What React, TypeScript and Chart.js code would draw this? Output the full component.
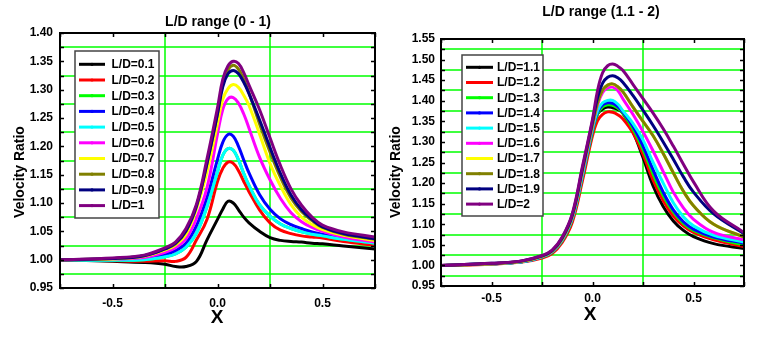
import { useEffect, useRef } from "react";
import { Chart, registerables } from "chart.js";

Chart.register(...registerables);

// ---------- data ----------
const X_VALUES = [-0.75, -0.5, -0.35, -0.25, -0.2, -0.15, -0.1, -0.05, 0, 0.025, 0.05, 0.075, 0.1, 0.125, 0.15, 0.2, 0.25, 0.3, 0.35, 0.4, 0.45, 0.5, 0.6, 0.75];

const LEFT_TITLE = "L/D range (0 - 1)";
const RIGHT_TITLE = "L/D range (1.1 - 2)";
const Y_TITLE = "Velocity Ratio";
const X_TITLE = "X";

const LEFT_LABELS = ["L/D=0.1", "L/D=0.2", "L/D=0.3", "L/D=0.4", "L/D=0.5", "L/D=0.6", "L/D=0.7", "L/D=0.8", "L/D=0.9", "L/D=1"];
const RIGHT_LABELS = ["L/D=1.1", "L/D=1.2", "L/D=1.3", "L/D=1.4", "L/D=1.5", "L/D=1.6", "L/D=1.7", "L/D=1.8", "L/D=1.9", "L/D=2"];
const SERIES_COLORS = ["#000000", "#ff0000", "#00ff00", "#0000ff", "#00ffff", "#ff00ff", "#ffff00", "#808000", "#000080", "#800080"];

const X_TICK_LABELS = ["-0.5", "0.0", "0.5"];
const X_GRID = [-0.25, 0.25];

// left panel, L/D 0.1 .. 1
const LD_01 = [1.000, 0.997, 0.995, 0.992, 0.988, 0.988, 0.997, 1.035, 1.071, 1.089, 1.103, 1.100, 1.088, 1.075, 1.065, 1.050, 1.039, 1.034, 1.032, 1.031, 1.029, 1.028, 1.024, 1.019];
const LD_02 = [1.000, 0.998, 0.997, 0.998, 0.997, 1.004, 1.035, 1.071, 1.138, 1.161, 1.172, 1.170, 1.157, 1.138, 1.120, 1.088, 1.065, 1.052, 1.046, 1.042, 1.040, 1.038, 1.032, 1.025];
const LD_03 = [1.000, 0.999, 1.000, 1.005, 1.010, 1.022, 1.047, 1.094, 1.155, 1.184, 1.196, 1.193, 1.176, 1.152, 1.131, 1.097, 1.077, 1.063, 1.055, 1.049, 1.045, 1.042, 1.036, 1.029];
const LD_04 = [1.000, 1.000, 1.002, 1.009, 1.016, 1.029, 1.060, 1.110, 1.177, 1.207, 1.221, 1.218, 1.200, 1.176, 1.153, 1.115, 1.089, 1.072, 1.062, 1.055, 1.049, 1.045, 1.037, 1.030];
const LD_05 = [1.000, 0.999, 1.000, 1.005, 1.010, 1.022, 1.047, 1.094, 1.155, 1.184, 1.196, 1.193, 1.176, 1.152, 1.131, 1.097, 1.077, 1.063, 1.055, 1.049, 1.045, 1.042, 1.036, 1.029];
const LD_06 = [1.000, 1.001, 1.004, 1.013, 1.021, 1.037, 1.073, 1.127, 1.222, 1.265, 1.284, 1.286, 1.276, 1.257, 1.232, 1.181, 1.141, 1.108, 1.083, 1.067, 1.057, 1.050, 1.040, 1.031];
const LD_07 = [1.000, 1.001, 1.006, 1.017, 1.026, 1.045, 1.090, 1.155, 1.240, 1.283, 1.302, 1.309, 1.304, 1.290, 1.272, 1.222, 1.170, 1.130, 1.097, 1.075, 1.062, 1.053, 1.043, 1.034];
const LD_08 = [1.000, 1.002, 1.007, 1.019, 1.028, 1.050, 1.094, 1.170, 1.258, 1.310, 1.335, 1.343, 1.336, 1.318, 1.294, 1.240, 1.190, 1.145, 1.109, 1.085, 1.069, 1.057, 1.045, 1.036];
const LD_09 = [1.000, 1.002, 1.007, 1.019, 1.029, 1.051, 1.095, 1.170, 1.257, 1.305, 1.328, 1.334, 1.328, 1.313, 1.293, 1.247, 1.198, 1.152, 1.114, 1.088, 1.071, 1.058, 1.046, 1.037];
const LD_10 = [1.000, 1.003, 1.008, 1.021, 1.031, 1.055, 1.098, 1.178, 1.268, 1.318, 1.342, 1.350, 1.346, 1.330, 1.308, 1.265, 1.215, 1.166, 1.125, 1.096, 1.075, 1.061, 1.049, 1.040];

// right panel, L/D 1.1 .. 2
const LD_11 = [1.000, 1.004, 1.009, 1.021, 1.033, 1.062, 1.115, 1.220, 1.330, 1.368, 1.380, 1.385, 1.383, 1.379, 1.370, 1.325, 1.262, 1.193, 1.143, 1.108, 1.085, 1.070, 1.053, 1.041];
const LD_12 = [1.000, 1.003, 1.008, 1.018, 1.029, 1.056, 1.105, 1.205, 1.315, 1.352, 1.367, 1.373, 1.372, 1.366, 1.356, 1.322, 1.270, 1.207, 1.157, 1.120, 1.096, 1.080, 1.062, 1.046];
const LD_13 = [1.000, 1.004, 1.009, 1.020, 1.032, 1.060, 1.112, 1.215, 1.325, 1.368, 1.385, 1.390, 1.389, 1.382, 1.370, 1.332, 1.282, 1.222, 1.170, 1.130, 1.102, 1.085, 1.067, 1.050];
const LD_14 = [1.000, 1.004, 1.009, 1.021, 1.033, 1.062, 1.115, 1.220, 1.330, 1.372, 1.390, 1.395, 1.394, 1.386, 1.373, 1.338, 1.290, 1.232, 1.178, 1.135, 1.106, 1.088, 1.069, 1.054];
const LD_15 = [1.000, 1.004, 1.009, 1.021, 1.033, 1.062, 1.115, 1.220, 1.332, 1.376, 1.395, 1.401, 1.401, 1.392, 1.376, 1.345, 1.305, 1.250, 1.200, 1.152, 1.118, 1.096, 1.073, 1.057];
const LD_16 = [1.000, 1.004, 1.010, 1.022, 1.034, 1.064, 1.118, 1.225, 1.338, 1.390, 1.420, 1.431, 1.433, 1.425, 1.405, 1.367, 1.325, 1.278, 1.228, 1.178, 1.140, 1.112, 1.080, 1.062];
const LD_17 = [1.000, 1.004, 1.010, 1.022, 1.035, 1.065, 1.120, 1.230, 1.342, 1.395, 1.426, 1.438, 1.440, 1.434, 1.422, 1.385, 1.350, 1.315, 1.272, 1.225, 1.180, 1.145, 1.100, 1.069];
const LD_18 = [1.000, 1.004, 1.010, 1.022, 1.035, 1.065, 1.120, 1.230, 1.342, 1.395, 1.426, 1.438, 1.441, 1.434, 1.422, 1.385, 1.350, 1.315, 1.272, 1.225, 1.180, 1.145, 1.100, 1.069];
const LD_19 = [1.000, 1.005, 1.011, 1.023, 1.036, 1.067, 1.123, 1.235, 1.350, 1.408, 1.443, 1.457, 1.461, 1.456, 1.445, 1.413, 1.377, 1.340, 1.300, 1.258, 1.215, 1.178, 1.125, 1.077];
const LD_20 = [1.000, 1.005, 1.011, 1.024, 1.037, 1.069, 1.126, 1.240, 1.355, 1.425, 1.468, 1.485, 1.489, 1.484, 1.474, 1.440, 1.405, 1.370, 1.332, 1.290, 1.246, 1.203, 1.132, 1.080];

const LEFT_SERIES = [LD_01, LD_02, LD_03, LD_04, LD_05, LD_06, LD_07, LD_08, LD_09, LD_10];
const RIGHT_SERIES = [LD_11, LD_12, LD_13, LD_14, LD_15, LD_16, LD_17, LD_18, LD_19, LD_20];

// ---------- styling ----------
const FONT = 'Arial, "Liberation Sans", Helvetica, sans-serif';
const GRID_GREEN = "#00ff00";

type Panel = {
  title: string;
  titleX: number;
  titleY: number;
  labels: string[];
  series: number[][];
  yMin: number;
  yMax: number;
  pad: { top: number; right: number };
  yWidth: number;
  xHeight: number;
  xTickPad: number;
  yTickPad: number;
  yTitleX: number;
  xTitleX: number;
  xTitleY: number;
  legend: { x: number; y: number; w: number; h: number; row0: number; rowH: number; l0: number; l1: number; tx: number };
};

const LEFT_PANEL: Panel = {
  title: LEFT_TITLE,
  titleX: 218,
  titleY: 22,
  labels: LEFT_LABELS,
  series: LEFT_SERIES,
  yMin: 0.95,
  yMax: 1.4,
  pad: { top: 33, right: 8 },
  yWidth: 60,
  xHeight: 49,
  xTickPad: 8,
  yTickPad: 7,
  yTitleX: 20,
  xTitleX: 217,
  xTitleY: 318,
  legend: { x: 75, y: 51, w: 84, h: 167, row0: 64.3, rowH: 15.7, l0: 79, l1: 105, tx: 111.5 },
};

const RIGHT_PANEL: Panel = {
  title: RIGHT_TITLE,
  titleX: 218,
  titleY: 12,
  labels: RIGHT_LABELS,
  series: RIGHT_SERIES,
  yMin: 0.95,
  yMax: 1.55,
  pad: { top: 39, right: 22 },
  yWidth: 58,
  xHeight: 51,
  xTickPad: 5,
  yTickPad: 6,
  yTitleX: 13,
  xTitleX: 207,
  xTitleY: 315,
  legend: { x: 79, y: 55, w: 81, h: 161, row0: 67.3, rowH: 15.2, l0: 83, l1: 110, tx: 114 },
};

function decorPlugin(p: Panel) {
  return {
    id: "decor",
    beforeDatasetsDraw(chart: any) {
      const { ctx, chartArea } = chart;
      const { left, right, top, bottom } = chartArea;
      const xs = chart.scales.x;
      const ys = chart.scales.y;
      ctx.save();
      ctx.strokeStyle = GRID_GREEN;
      ctx.lineWidth = 1.5;
      ctx.beginPath();
      ys.ticks.forEach((t: any) => {
        const k = Math.round(t.value * 1000);
        if (k % 50 !== 25) return;
        const py = Math.round(ys.getPixelForValue(t.value));
        ctx.moveTo(left, py);
        ctx.lineTo(right, py);
      });
      X_GRID.forEach((v) => {
        const px = Math.round(xs.getPixelForValue(v));
        ctx.moveTo(px, top);
        ctx.lineTo(px, bottom);
      });
      ctx.stroke();
      ctx.restore();
    },
    afterDatasetsDraw(chart: any) {
      const { ctx, chartArea } = chart;
      const { left, right, top, bottom } = chartArea;
      const xs = chart.scales.x;
      const ys = chart.scales.y;
      ctx.save();
      ctx.strokeStyle = "#000";
      ctx.lineWidth = 1.5;
      ctx.beginPath();
      ys.ticks.forEach((t: any) => {
        const py = Math.round(ys.getPixelForValue(t.value)) + 0.5;
        ctx.moveTo(left, py);
        ctx.lineTo(left + 4, py);
        ctx.moveTo(right, py);
        ctx.lineTo(right - 4, py);
      });
      xs.ticks.forEach((t: any) => {
        const px = Math.round(xs.getPixelForValue(t.value)) + 0.5;
        ctx.moveTo(px, bottom);
        ctx.lineTo(px, bottom - 4);
        ctx.moveTo(px, top);
        ctx.lineTo(px, top + 4);
      });
      ctx.stroke();
      ctx.lineWidth = 2;
      ctx.strokeRect(left, top, right - left, bottom - top);
      ctx.restore();
    },
    afterDraw(chart: any) {
      const { ctx } = chart;
      ctx.save();
      ctx.fillStyle = "#000";
      ctx.font = `bold 14px ${FONT}`;
      ctx.textAlign = "center";
      ctx.textBaseline = "middle";
      ctx.fillText(p.title, p.titleX, p.titleY);
      ctx.save();
      ctx.translate(p.yTitleX, 172);
      ctx.rotate(-Math.PI / 2);
      ctx.font = `bold 14px ${FONT}`;
      ctx.fillText(Y_TITLE, 0, 0);
      ctx.restore();
      ctx.font = `bold 19px ${FONT}`;
      ctx.fillText(X_TITLE, p.xTitleX, p.xTitleY);
      const L = p.legend;
      ctx.fillStyle = "#fff";
      ctx.fillRect(L.x, L.y, L.w, L.h);
      ctx.strokeStyle = "#444";
      ctx.lineWidth = 1.5;
      ctx.strokeRect(L.x, L.y, L.w, L.h);
      ctx.textAlign = "left";
      ctx.font = `bold 12px ${FONT}`;
      p.labels.forEach((lab, i) => {
        const y = L.row0 + i * L.rowH;
        ctx.strokeStyle = SERIES_COLORS[i];
        ctx.lineWidth = 3;
        ctx.beginPath();
        ctx.moveTo(L.l0, y);
        ctx.lineTo(L.l1, y);
        ctx.stroke();
        ctx.fillStyle = SERIES_COLORS[i];
        ctx.beginPath();
        ctx.arc((L.l0 + L.l1) / 2, y, 1.6, 0, Math.PI * 2);
        ctx.fill();
        ctx.fillStyle = "#000";
        ctx.fillText(lab, L.tx, y + 0.5);
      });
      ctx.restore();
    },
  };
}

function PanelChart({ panel }: { panel: Panel }) {
  const ref = useRef<HTMLCanvasElement | null>(null);
  useEffect(() => {
    if (!ref.current) return;
    const n = panel.series.length;
    const chart = new Chart(ref.current, {
      type: "line",
      data: {
        datasets: panel.series.map((vals, i) => ({
          label: panel.labels[i],
          data: X_VALUES.map((x, j) => ({ x, y: vals[j] })),
          borderColor: SERIES_COLORS[i],
          backgroundColor: SERIES_COLORS[i],
          borderWidth: 3,
          pointRadius: 0,
          fill: false,
          tension: 0.4,
          order: n - 1 - i,
        })),
      },
      options: {
        responsive: false,
        animation: false,
        events: [],
        layout: { padding: { top: panel.pad.top, right: panel.pad.right, left: 0, bottom: 0 } },
        plugins: {
          legend: { display: false },
          title: { display: false },
          tooltip: { enabled: false },
        },
        scales: {
          x: {
            type: "linear",
            min: -0.75,
            max: 0.75,
            border: { display: false },
            grid: { display: false, drawTicks: false },
            ticks: {
              stepSize: 0.25,
              autoSkip: false,
              maxRotation: 0,
              padding: panel.xTickPad,
              color: "#000",
              font: { family: FONT, size: 12, weight: "bold" },
              callback: (v: any) => {
                const s = Number(v).toFixed(1);
                return X_TICK_LABELS.includes(s) ? s : "";
              },
            },
            afterFit: (s: any) => {
              s.height = panel.xHeight;
            },
          },
          y: {
            type: "linear",
            min: panel.yMin,
            max: panel.yMax,
            border: { display: false },
            grid: { display: false, drawTicks: false },
            ticks: {
              stepSize: 0.025,
              autoSkip: false,
              padding: panel.yTickPad,
              color: "#000",
              font: { family: FONT, size: 12, weight: "bold" },
              callback: (v: any) => {
                const k = Math.round(Number(v) * 1000);
                return k % 50 === 0 ? (k / 1000).toFixed(2) : "";
              },
            },
            afterFit: (s: any) => {
              s.width = panel.yWidth;
            },
          },
        },
      },
      plugins: [decorPlugin(panel)],
    } as any);
    return () => chart.destroy();
  }, [panel]);
  return <canvas ref={ref} width={383} height={337} style={{ display: "block", width: 383, height: 337 }} />;
}

export default function App() {
  return (
    <div style={{ position: "fixed", left: 0, top: 0, width: 766, height: 337, display: "flex", background: "#fff" }}>
      <PanelChart panel={LEFT_PANEL} />
      <PanelChart panel={RIGHT_PANEL} />
    </div>
  );
}
